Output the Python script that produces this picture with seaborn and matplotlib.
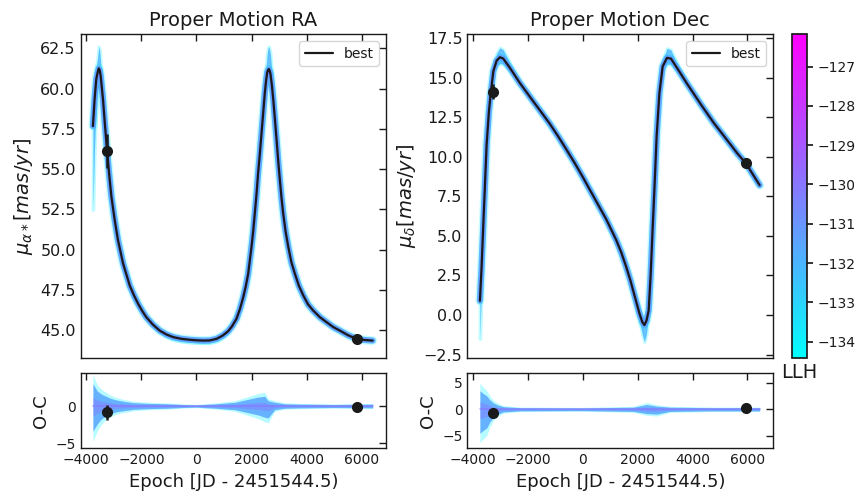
import numpy as np
import matplotlib
matplotlib.use("Agg")
import matplotlib.pyplot as plt
import seaborn as sns
from matplotlib.colors import Normalize
from matplotlib.cm import ScalarMappable

# --- values ---
# RA proper motion, best orbit
ra_epoch = [-3760, -3700, -3640, -3590, -3550, -3515, -3480, -3395, -3320, -3250,
            -3175, -3090, -2970, -2850, -2665, -2425, -2270, -2120, -1970, -1820,
            -1580, -1335, -1090, -850, -550, -240, 0, 240, 480, 730,
            950, 1150, 1300, 1455, 1580, 1700, 1790, 1880, 2000, 2060,
            2120, 2180, 2240, 2300, 2365, 2425, 2485, 2530, 2570, 2600,
            2630, 2660, 2690, 2740, 2790, 2850, 2910, 2970, 3030, 3090,
            3150, 3240, 3335, 3450, 3575, 3720, 3880, 4050, 4240, 4480,
            4730, 4970, 5210, 5500, 5820, 6100, 6400]
ra_best = [57.67, 59.33, 60.58, 61.0, 61.25, 61.15, 60.79, 59.33, 57.67, 56.17,
           54.75, 53.29, 51.83, 50.58, 49.13, 47.77, 47.15, 46.63, 46.18, 45.79,
           45.33, 44.96, 44.72, 44.56, 44.45, 44.39, 44.36, 44.34, 44.35, 44.45,
           44.65, 44.92, 45.25, 45.7, 46.3, 47.04, 47.7, 48.5, 50.17, 51.1,
           52.25, 53.4, 54.75, 55.9, 57.25, 58.5, 59.75, 60.5, 61.0, 61.15,
           61.21, 61.1, 60.9, 60.2, 59.33, 58.1, 56.83, 55.5, 54.33, 53.2,
           52.25, 51.1, 50.17, 49.2, 48.5, 47.75, 47.15, 46.6, 46.21, 45.8,
           45.48, 45.18, 44.96, 44.68, 44.44, 44.38, 44.34]
# extra spread of the posterior curves above / below the best one
ra_hi = [0.8, 0.8, 0.8, 0.9, 1.35, 1.2, 0.8, 0.4, 0.1, 0,
         0, 0, 0, 0, 0, 0, 0, 0, 0, 0,
         0, 0, 0, 0, 0, 0, 0, 0, 0, 0,
         0, 0, 0, 0, 0, 0, 0, 0, 0, 0,
         0, 0, 0, 0, 0, 0, 0.6, 0.9, 1.2, 1.35,
         1.4, 1.3, 1.2, 0.8, 0.5, 0.2, 0, 0, 0, 0,
         0, 0, 0, 0, 0, 0, 0, 0, 0, 0,
         0, 0, 0, 0, 0, 0, 0]
ra_lo = [5.2, 3.0, 1.5, 0.8, 0.6, 0.3, 0.1, 0, 0, 0,
         0, 0, 0, 0, 0, 0, 0, 0, 0, 0,
         0, 0.1, 0.12, 0.15, 0.15, 0.15, 0.15, 0.15, 0.15, 0.15,
         0.12, 0.1, 0, 0, 0, 0, 0, 0, 0, 0,
         0, 0, 0, 0, 0, 0, 0, 0, 0.3, 0.5,
         0.6, 0.5, 0.4, 0.1, 0, 0, 0, 0, 0, 0,
         0, 0, 0, 0, 0, 0, 0, 0, 0, 0,
         0, 0, 0, 0, 0, 0, 0]

# Dec proper motion, best orbit
dec_epoch = [-3760, -3700, -3640, -3575, -3515, -3430, -3370, -3270, -3150, -3030,
             -2910, -2665, -2305, -2060, -1820, -1515, -1210, -910, -605, -300,
             0, 400, 850, 1215, 1400, 1578, 1730, 1880, 2062, 2170,
             2244, 2320, 2400, 2470, 2545, 2610, 2690, 2790, 2910, 3065,
             3210, 3395, 3820, 4305, 4790, 5275, 5640, 5940, 6450]
dec_best = [0.90, 3.0, 5.53, 8.26, 10.78, 12.88, 13.93, 15.4, 16.07, 16.28,
            16.2, 15.61, 14.66, 14.08, 13.51, 12.8, 12.08, 11.3, 10.46, 9.6,
            8.70, 7.45, 6.05, 4.74, 3.95, 3.05, 2.2, 1.25, 0.1, -0.45,
            -0.63, -0.35, 0.3, 2.5, 5.5, 8.0, 11.3, 14.0, 15.7, 16.24,
            16.2, 15.71, 14.56, 13.3, 12.1, 11.02, 10.2, 9.6, 8.2]
dec_hi = [0.3, 0, 0, 0, 0, 0, 0, 0, 0.45, 0.6,
          0.55, 0.3, 0, 0, 0, 0, 0, 0, 0, 0,
          0, 0, 0, 0, 0, 0, 0, 0, 0.2, 0.35,
          0.4, 0.35, 0.2, 0, 0, 0, 0, 0, 0.35, 0.6,
          0.55, 0.3, 0, 0, 0, 0, 0, 0, 0]
dec_lo = [2.4, 1.2, 0.5, 0.2, 0, 0, 0, 0, 0.3, 0.4,
          0.35, 0.2, 0, 0, 0, 0, 0, 0, 0, 0,
          0, 0, 0, 0, 0, 0, 0, 0.2, 0.5, 0.8,
          1.05, 0.8, 0.3, 0, 0, 0, 0, 0, 0.25, 0.4,
          0.35, 0.2, 0, 0, 0, 0, 0, 0, 0]

# O-C spread of the posterior curves
ra_res_epoch = [-3760, -3700, -3600, -3495, -3400, -3253, -3100, -2891, -2600, -2289,
                -1700, -1084, -500, 0, 723, 1397, 1880, 2241, 2482, 2602,
                2843, 3205, 3807, 5012, 6400]
ra_res_hi = [3.0, 2.6, 2.0, 1.7, 1.5, 1.25, 1.0, 0.8, 0.6, 0.45,
             0.35, 0.3, 0.2, 0.15, 0.3, 0.5, 0.9, 1.2, 1.3, 0.7,
             0.5, 0.3, 0.25, 0.2, 0.25]
ra_res_lo = [3.4, 3.0, 2.4, 1.9, 1.6, 1.2, 1.0, 0.76, 0.6, 0.45,
             0.35, 0.3, 0.2, 0.15, 0.3, 0.5, 0.9, 1.2, 1.5, 1.6,
             0.5, 0.3, 0.25, 0.2, 0.25]
dec_res_epoch = [-3760, -3650, -3511, -3400, -3270, -3100, -2905, -2296, -106, 1839,
                 2328, 2693, 3179, 4759, 6450]
dec_res_hi = [3.5, 3.0, 2.5, 1.8, 1.2, 0.8, 0.5, 0.3, 0.25, 0.4,
              0.9, 0.6, 0.4, 0.3, 0.3]
dec_res_lo = [4.5, 4.0, 3.5, 2.4, 1.5, 0.9, 0.5, 0.3, 0.25, 0.4,
              0.8, 0.9, 0.4, 0.3, 0.3]

# measured proper motions
ra_obs_epoch = [-3240, 5830]
ra_obs = [56.12, 44.44]
ra_obs_err = [1.05, 0.1]
ra_res = [-0.85, -0.13]
ra_res_err = [1.03, 0.1]
dec_obs_epoch = [-3290, 5950]
dec_obs = [14.1, 9.62]
dec_obs_err = [0.47, 0.1]
dec_res = [-0.75, 0.25]
dec_res_err = [0.45, 0.1]

llh_min, llh_max = -134.41, -126.17
llh_ticks = [-134, -133, -132, -131, -130, -129, -128, -127]


def draw_curve(ax, epoch, best, hi, lo, cmap):
    epoch = np.array(epoch)
    best = np.array(best)
    upper = best + np.array(hi)
    lower = best - np.array(lo)
    ax.fill_between(epoch, lower, upper, color=cmap(0.05), alpha=0.25, lw=2.5)
    ax.fill_between(epoch, lower, upper, color=cmap(0.32), alpha=0.75, lw=0)
    sns.lineplot(x=epoch, y=best, ax=ax, color=cmap(0.05), lw=6.5, alpha=0.22,
                 sort=False, estimator=None, legend=False)
    sns.lineplot(x=epoch, y=best, ax=ax, color=cmap(0.32), lw=4.5, alpha=0.9,
                 sort=False, estimator=None, legend=False)
    sns.lineplot(x=epoch, y=best, ax=ax, color=cmap(0.55), lw=2.6, alpha=0.5,
                 sort=False, estimator=None, legend=False)
    sns.lineplot(x=epoch, y=best, ax=ax, color='k', lw=1.6, label='best',
                 sort=False, estimator=None)


def draw_resid(ax, epoch, hi, lo, cmap):
    epoch = np.array(epoch)
    hi = np.array(hi)
    lo = np.array(lo)
    ax.fill_between(epoch, -1.4 * lo, 1.4 * hi, color=cmap(0.05), alpha=0.3, lw=0)
    ax.fill_between(epoch, -lo, hi, color=cmap(0.35), alpha=0.85, lw=0)
    ax.fill_between(epoch, -0.4 * lo, 0.4 * hi, color=cmap(0.55), alpha=0.4, lw=0)
    sns.lineplot(x=epoch, y=np.zeros(len(epoch)), ax=ax, color=cmap(0.55), lw=1.2,
                 alpha=0.6, sort=False, estimator=None, legend=False)


def style_axes(ax, labelsize):
    ax.tick_params(direction='in', top=True, right=True, length=5,
                   width=1, colors='k', labelsize=labelsize)
    for s in ax.spines.values():
        s.set_color('k')
        s.set_linewidth(1)


def main():
    sns.set_theme(style="white")
    plt.rcParams['font.family'] = ['DejaVu Sans']
    plt.rcParams['mathtext.fontset'] = 'dejavusans'
    plt.rcParams['text.color'] = 'k'
    plt.rcParams['axes.labelcolor'] = 'k'
    plt.rcParams['xtick.color'] = 'k'
    plt.rcParams['ytick.color'] = 'k'
    cmap = plt.get_cmap('cool')

    fig = plt.figure(figsize=(8.64, 5.0), dpi=100)
    ax_ra = fig.add_axes([0.0934, 0.2834, 0.3535, 0.6486])
    ax_ra_res = fig.add_axes([0.0934, 0.1034, 0.3535, 0.15], sharex=ax_ra)
    ax_dec = fig.add_axes([0.5409, 0.2834, 0.3542, 0.6486])
    ax_dec_res = fig.add_axes([0.5409, 0.1034, 0.3542, 0.15], sharex=ax_dec)
    cax = fig.add_axes([0.9163, 0.2846, 0.0181, 0.6474])

    # top panels
    draw_curve(ax_ra, ra_epoch, ra_best, ra_hi, ra_lo, cmap)
    ax_ra.errorbar(ra_obs_epoch, ra_obs, yerr=ra_obs_err, fmt='o', color='k',
                   ms=7, elinewidth=1.8, capsize=0, zorder=5)
    draw_curve(ax_dec, dec_epoch, dec_best, dec_hi, dec_lo, cmap)
    ax_dec.errorbar(dec_obs_epoch, dec_obs, yerr=dec_obs_err, fmt='o', color='k',
                    ms=7, elinewidth=1.8, capsize=0, zorder=5)

    # residual panels
    draw_resid(ax_ra_res, ra_res_epoch, ra_res_hi, ra_res_lo, cmap)
    ax_ra_res.errorbar(ra_obs_epoch, ra_res, yerr=ra_res_err, fmt='o', color='k',
                       ms=7, elinewidth=1.8, capsize=0, zorder=5)
    draw_resid(ax_dec_res, dec_res_epoch, dec_res_hi, dec_res_lo, cmap)
    ax_dec_res.errorbar(dec_obs_epoch, dec_res, yerr=dec_res_err, fmt='o', color='k',
                        ms=7, elinewidth=1.8, capsize=0, zorder=5)

    ax_ra.set_xlim(-4205, 6890)
    ax_dec.set_xlim(-4219, 6950)
    ax_ra.set_ylim(43.24, 63.39)
    ax_dec.set_ylim(-2.73, 17.75)
    ax_ra_res.set_ylim(-5.66, 4.38)
    ax_dec_res.set_ylim(-7.31, 6.75)
    ax_ra_res.set_yticks([-5, 0])
    ax_dec_res.set_yticks([-5, 0, 5])
    ax_ra.set_xticks([-4000, -2000, 0, 2000, 4000, 6000])
    ax_dec.set_xticks([-4000, -2000, 0, 2000, 4000, 6000])

    for ax in (ax_ra, ax_dec):
        style_axes(ax, 11.5)
        ax.tick_params(labelbottom=False)
        ax.legend(loc='upper right', fontsize=10, frameon=True, fancybox=True,
                  framealpha=0.8, edgecolor='0.8', handlelength=2)
        ax.set_xlabel('')
    for ax in (ax_ra_res, ax_dec_res):
        style_axes(ax, 10)
        ax.set_xlabel('Epoch [JD - 2451544.5)', fontsize=13)
        ax.set_ylabel('O-C', fontsize=13)

    ax_ra.set_title('Proper Motion RA', fontsize=14)
    ax_dec.set_title('Proper Motion Dec', fontsize=14)
    ax_ra.set_ylabel(r'$\mu_{\alpha*} [mas/yr]$', fontsize=14)
    ax_dec.set_ylabel(r'$\mu_{\delta} [mas/yr]$', fontsize=14)

    sm = ScalarMappable(norm=Normalize(vmin=llh_min, vmax=llh_max), cmap=cmap)
    cbar = fig.colorbar(sm, cax=cax, ticks=llh_ticks)
    cbar.ax.tick_params(direction='out', length=4, labelsize=10, colors='k')
    cbar.outline.set_edgecolor('k')
    cbar.ax.set_xlabel('LLH', fontsize=14, labelpad=4)

    fig.savefig('out.png', dpi=100)


if __name__ == '__main__':
    main()
